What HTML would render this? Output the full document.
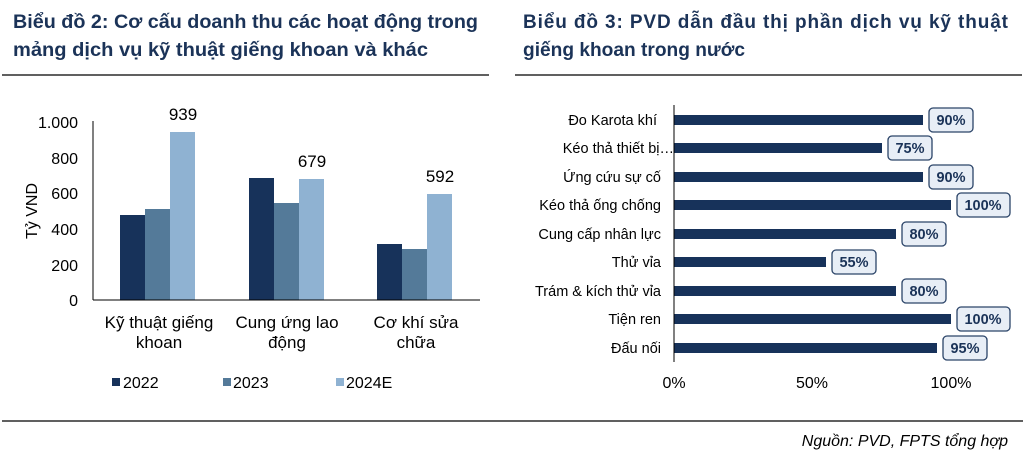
<!DOCTYPE html>
<html><head><meta charset="utf-8"><style>
body{margin:0;background:#fff;}
svg{display:block;font-family:"Liberation Sans",Arial,sans-serif;}
</style></head><body>
<svg width="1025" height="457" viewBox="0 0 1025 457" xmlns="http://www.w3.org/2000/svg">
<g font-weight="bold" font-size="19" fill="#1b3358">
<text x="13" y="28" textLength="465" lengthAdjust="spacingAndGlyphs">Biểu đồ 2: Cơ cấu doanh thu các hoạt động trong</text>
<text x="13" y="56" textLength="415" lengthAdjust="spacingAndGlyphs">mảng dịch vụ kỹ thuật giếng khoan và khác</text>
<text x="523" y="28" textLength="485" lengthAdjust="spacing">Biểu đồ 3: PVD dẫn đầu thị phần dịch vụ kỹ thuật</text>
<text x="523" y="56" textLength="222" lengthAdjust="spacingAndGlyphs">giếng khoan trong nước</text>
</g>
<line x1="2" y1="75" x2="489" y2="75" stroke="#000" stroke-width="1.3"/>
<line x1="515" y1="75" x2="1022" y2="75" stroke="#000" stroke-width="1.3"/>
<line x1="2" y1="421" x2="1023" y2="421" stroke="#000" stroke-width="1.3"/>
<text x="1008" y="446" font-size="16" font-style="italic" text-anchor="end" fill="#000">Nguồn: PVD, FPTS tổng hợp</text>

<g font-size="16" fill="#000">
<text x="78" y="128" text-anchor="end">1.000</text>
<text x="78" y="164" text-anchor="end">800</text>
<text x="78" y="199" text-anchor="end">600</text>
<text x="78" y="235" text-anchor="end">400</text>
<text x="78" y="271" text-anchor="end">200</text>
<text x="78" y="306" text-anchor="end">0</text>
<text transform="translate(37,211) rotate(-90)" text-anchor="middle">Tỷ VND</text>
</g>
<g>
<rect x="120" y="215" width="25" height="85" fill="#17325a"/>
<rect x="145" y="209" width="25" height="91" fill="#547a99"/>
<rect x="170" y="132" width="25" height="168" fill="#8fb2d2"/>
<rect x="249" y="178" width="25" height="122" fill="#17325a"/>
<rect x="274" y="203" width="25" height="97" fill="#547a99"/>
<rect x="299" y="179" width="25" height="121" fill="#8fb2d2"/>
<rect x="377" y="244" width="25" height="56" fill="#17325a"/>
<rect x="402" y="249" width="25" height="51" fill="#547a99"/>
<rect x="427" y="194" width="25" height="106" fill="#8fb2d2"/>
</g>
<line x1="93" y1="121" x2="93" y2="300" stroke="#000"/>
<line x1="93" y1="300" x2="480" y2="300" stroke="#000"/>
<g font-size="17" fill="#000" text-anchor="middle">
<text x="183" y="120">939</text>
<text x="312" y="167">679</text>
<text x="440" y="182">592</text>
<text x="159" y="328">Kỹ thuật giếng</text>
<text x="159" y="348">khoan</text>
<text x="287" y="328">Cung ứng lao</text>
<text x="287" y="348">động</text>
<text x="416" y="328">Cơ khí sửa</text>
<text x="416" y="348">chữa</text>
</g>
<g font-size="16" fill="#000">
<rect x="112" y="378" width="8" height="8" fill="#17325a"/><text x="123" y="388">2022</text>
<rect x="223" y="378" width="8" height="8" fill="#547a99"/><text x="233" y="388">2023</text>
<rect x="336" y="378" width="8" height="8" fill="#8fb2d2"/><text x="346" y="388">2024E</text>
</g>

<g fill="#17325a">
<rect x="674" y="115" width="249" height="10"/>
<rect x="674" y="143" width="208" height="10"/>
<rect x="674" y="172" width="249" height="10"/>
<rect x="674" y="200" width="277" height="10"/>
<rect x="674" y="229" width="222" height="10"/>
<rect x="674" y="257" width="152" height="10"/>
<rect x="674" y="286" width="222" height="10"/>
<rect x="674" y="314" width="277" height="10"/>
<rect x="674" y="343" width="263" height="10"/>
</g>
<line x1="674" y1="105" x2="674" y2="362" stroke="#000"/>
<g font-size="14.5" fill="#000" text-anchor="end">
<text x="657" y="125">Đo Karota khí</text>
<text x="674" y="153">Kéo thả thiết bị…</text>
<text x="661" y="182">Ứng cứu sự cố</text>
<text x="661" y="210">Kéo thả ống chống</text>
<text x="661" y="239">Cung cấp nhân lực</text>
<text x="661" y="267">Thử vỉa</text>
<text x="661" y="296">Trám &amp; kích thử vỉa</text>
<text x="661" y="324">Tiện ren</text>
<text x="661" y="353">Đấu nối</text>
</g>
<g font-size="14.5" font-weight="bold" fill="#1b3358" text-anchor="middle">
<g stroke="#2b4468" stroke-width="1.3" fill="#e8eef6">
<rect x="929" y="108" width="44" height="24" rx="4"/>
<rect x="888" y="136" width="44" height="24" rx="4"/>
<rect x="929" y="165" width="44" height="24" rx="4"/>
<rect x="957" y="193" width="53" height="24" rx="4"/>
<rect x="902" y="222" width="44" height="24" rx="4"/>
<rect x="832" y="250" width="44" height="24" rx="4"/>
<rect x="902" y="279" width="44" height="24" rx="4"/>
<rect x="957" y="307" width="53" height="24" rx="4"/>
<rect x="943" y="336" width="44" height="24" rx="4"/>
</g>
<text x="951" y="125">90%</text>
<text x="910" y="153">75%</text>
<text x="951" y="182">90%</text>
<text x="983" y="210">100%</text>
<text x="924" y="239">80%</text>
<text x="854" y="267">55%</text>
<text x="924" y="296">80%</text>
<text x="983" y="324">100%</text>
<text x="965" y="353">95%</text>
</g>
<g font-size="16" fill="#000" text-anchor="middle">
<text x="674" y="388">0%</text>
<text x="812" y="388">50%</text>
<text x="951" y="388">100%</text>
</g>
</svg>
</body></html>
